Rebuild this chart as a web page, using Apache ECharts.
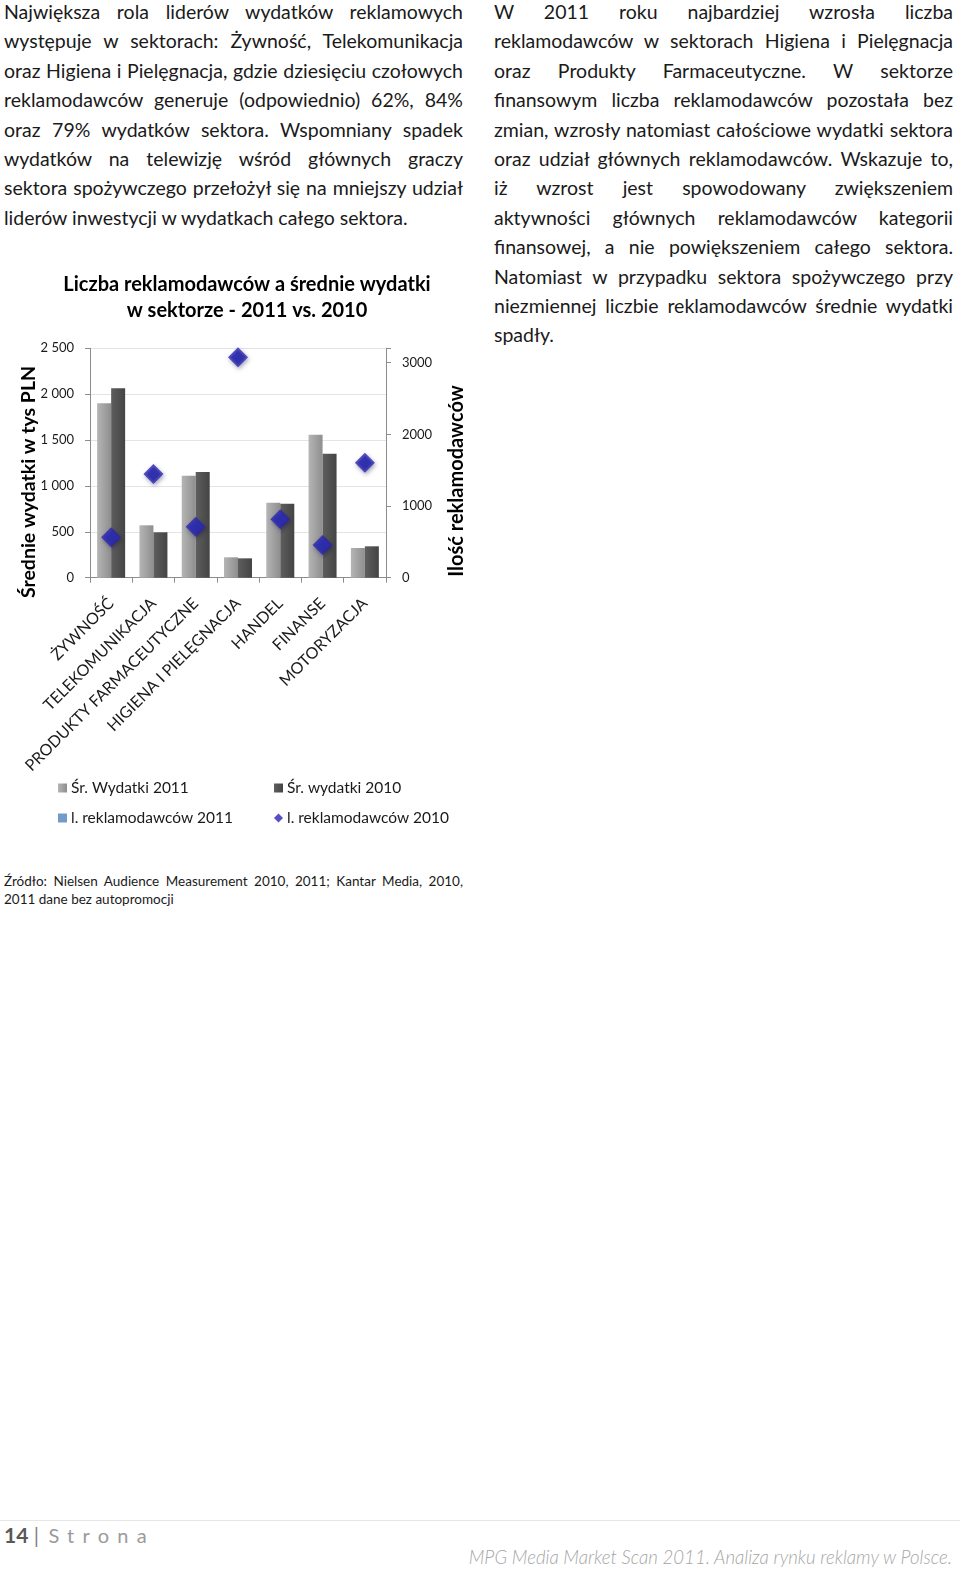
<!DOCTYPE html>
<html><head><meta charset="utf-8">
<script src="https://cdn.jsdelivr.net/npm/echarts@6/dist/echarts.min.js"></script>
<style>
html,body{margin:0;padding:0;background:#fff;}
body{width:960px;height:1573px;position:relative;overflow:hidden;font-family:Lato,"Open Sans",sans-serif;color:#1a1a1a;}
.col{position:absolute;top:-3px;width:459px;font-size:19.5px;line-height:29.4px;}
.col div{text-align:justify;text-align-last:justify;white-space:nowrap;}
.col div.last{text-align-last:left;}
#chart{position:absolute;left:0;top:260px;width:480px;height:600px;}
.src{position:absolute;left:4px;top:872px;width:459px;font-size:13.5px;line-height:18px;}
.src div{text-align:justify;text-align-last:justify;white-space:nowrap;}
.src div.last{text-align-last:left;}
.hr{position:absolute;left:0;top:1520px;width:960px;height:1px;background:#e6e6e6;}
.pg{position:absolute;left:4px;top:1522px;font-size:21px;color:#7f7f7f;}
.pg b{color:#595959;}
.pg span{letter-spacing:8.3px;color:#9a9a9a;font-size:20px;margin-left:4px;}
.foot{position:absolute;right:8px;top:1546px;font-size:18.6px;font-style:italic;color:#a6a6a6;font-weight:300;}
</style></head>
<body>
<div class="col" style="left:4px;">
<div>Największa rola liderów wydatków reklamowych</div>
<div>występuje w sektorach: Żywność, Telekomunikacja</div>
<div>oraz Higiena i Pielęgnacja, gdzie dziesięciu czołowych</div>
<div>reklamodawców generuje (odpowiednio) 62%, 84%</div>
<div>oraz 79% wydatków sektora. Wspomniany spadek</div>
<div>wydatków na telewizję wśród głównych graczy</div>
<div>sektora spożywczego przełożył się na mniejszy udział</div>
<div class="last">liderów inwestycji w wydatkach całego sektora.</div>
</div>
<div class="col" style="left:494px;">
<div>W 2011 roku najbardziej wzrosła liczba</div>
<div>reklamodawców w sektorach Higiena i Pielęgnacja</div>
<div>oraz Produkty Farmaceutyczne. W sektorze</div>
<div>finansowym liczba reklamodawców pozostała bez</div>
<div>zmian, wzrosły natomiast całościowe wydatki sektora</div>
<div>oraz udział głównych reklamodawców. Wskazuje to,</div>
<div>iż wzrost jest spowodowany zwiększeniem</div>
<div>aktywności głównych reklamodawców kategorii</div>
<div>finansowej, a nie powiększeniem całego sektora.</div>
<div>Natomiast w przypadku sektora spożywczego przy</div>
<div>niezmiennej liczbie reklamodawców średnie wydatki</div>
<div class="last">spadły.</div>
</div>
<div id="chart"></div>
<div class="src">
<div>Źródło: Nielsen Audience Measurement 2010, 2011; Kantar Media, 2010,</div>
<div class="last">2011 dane bez autopromocji</div>
</div>
<div class="hr"></div>
<div class="pg"><b>14</b> | <span>Strona</span></div>
<div class="foot">MPG Media Market Scan 2011. Analiza rynku reklamy w Polsce.</div>
<script>
const categories = ['ŻYWNOŚĆ','TELEKOMUNIKACJA','PRODUKTY FARMACEUTYCZNE','HIGIENA I PIELĘGNACJA','HANDEL','FINANSE','MOTORYZACJA'];
const spend2011 = [1900, 571, 1112, 222, 817, 1558, 324];
const spend2010 = [2064, 495, 1152, 211, 807, 1351, 342];
const advertisers2011 = [564, 1447, 712, 3075, 815, 456, 1605];
const advertisers2010 = [564, 1447, 712, 3075, 815, 456, 1605];
const leftTicks = {min:0, max:2500, interval:500};
const rightTicks = {min:0, max:3200, interval:1000};

const FONT = 'Lato, "Open Sans", sans-serif';
const chart = echarts.init(document.getElementById('chart'));
const grad = (a,b) => new echarts.graphic.LinearGradient(0,0,1,0,[{offset:0,color:a},{offset:1,color:b}]);
const fmtL = v => v >= 1000 ? Math.floor(v/1000) + ' ' + String(v%1000).padStart(3,'0') : String(v);
const legendText = {fontFamily:FONT,fontSize:15.5,color:'#1a1a1a',padding:[0,0,0,-1]};
chart.setOption({
  animation:false,
  textStyle:{fontFamily:FONT},
  title:{
    text:'Liczba reklamodawców a średnie wydatki\nw sektorze - 2011 vs. 2010',
    left:242, top:7, textAlign:'center',
    textStyle:{fontFamily:FONT,fontSize:20,fontWeight:'bold',color:'#000',lineHeight:26}
  },
  grid:{left:90, top:88.3, width:296, height:229.4, containLabel:false},
  legend:[
    {data:[{name:'Śr. Wydatki 2011',icon:'rect'},{name:'l. reklamodawców 2011',icon:'rect'}], orient:'vertical', left:53, top:515,
     itemWidth:9, itemHeight:9, itemGap:14, textStyle:legendText},
    {data:[{name:'Śr. wydatki 2010',icon:'rect'},{name:'l. reklamodawców 2010',icon:'diamond'}], orient:'vertical', left:269, top:515,
     itemWidth:9, itemHeight:9, itemGap:14, textStyle:legendText}
  ],
  xAxis:{
    type:'category', data:categories,
    axisLine:{lineStyle:{color:'#8c8c8c'}},
    axisTick:{show:true, length:5, lineStyle:{color:'#8c8c8c'}},
    axisLabel:{rotate:45, fontSize:16, color:'#1a1a1a', margin:23, interval:0, fontFamily:FONT, padding:[0,0,0,0]}
  },
  yAxis:[
    {type:'value', min:leftTicks.min, max:leftTicks.max, interval:leftTicks.interval, position:'left',
     axisLine:{show:true,lineStyle:{color:'#8c8c8c'}},
     axisTick:{show:true,length:5,lineStyle:{color:'#8c8c8c'}},
     splitLine:{lineStyle:{color:'#e4e4e4'}},
     axisLabel:{fontSize:13,color:'#1a1a1a',margin:16,formatter:fmtL,fontFamily:FONT}},
    {type:'value', min:rightTicks.min, max:rightTicks.max, interval:rightTicks.interval, position:'right',
     axisLine:{show:true,lineStyle:{color:'#8c8c8c'}},
     axisTick:{show:true,length:5,lineStyle:{color:'#8c8c8c'}},
     splitLine:{show:false},
     axisLabel:{fontSize:13,color:'#1a1a1a',margin:16,fontFamily:FONT,
       formatter:v => (v % 1000 === 0 ? String(v) : '')}}
  ],
  series:[
    {name:'Śr. Wydatki 2011', type:'bar', data:spend2011, yAxisIndex:0, barWidth:14, barGap:'0%',
     itemStyle:{color:grad('#b5b5b5','#8e8e8e')}},
    {name:'Śr. wydatki 2010', type:'bar', data:spend2010, yAxisIndex:0, barWidth:14,
     itemStyle:{color:grad('#5e5e5e','#444444')}},
    {name:'l. reklamodawców 2011', type:'scatter', data:advertisers2011, yAxisIndex:1, symbol:'diamond', symbolSize:14, z:3,
     itemStyle:{color:'#4f81bd'}},
    {name:'l. reklamodawców 2010', type:'scatter', data:advertisers2010, yAxisIndex:1, symbol:'diamond', symbolSize:20, z:4,
     itemStyle:{color:'#2b24b2', shadowColor:'rgba(0,0,60,0.45)', shadowBlur:4, shadowOffsetX:1, shadowOffsetY:2}}
  ],
  graphic:[
    {type:'text', x:29, y:222, rotation:Math.PI/2,
     style:{text:'Średnie wydatki w tys PLN', align:'center', verticalAlign:'middle', fontFamily:FONT, fontSize:19.5, fontWeight:'bold', fill:'#000'}},
    {type:'text', x:457, y:221, rotation:Math.PI/2,
     style:{text:'Ilość reklamodawców', align:'center', verticalAlign:'middle', fontFamily:FONT, fontSize:20, fontWeight:'bold', fill:'#000'}}
  ]
});
</script>
</body></html>
